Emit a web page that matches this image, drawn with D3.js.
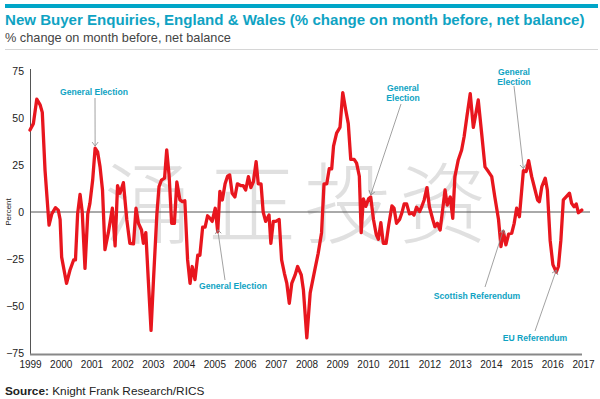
<!DOCTYPE html>
<html><head><meta charset="utf-8">
<script src="https://cdn.jsdelivr.net/npm/d3@7/dist/d3.min.js"></script>
<style>
html,body{margin:0;padding:0;background:#fff;}
svg{display:block;font-family:"Liberation Sans",Arial,Helvetica,sans-serif;}
</style></head>
<body><svg id="c" width="600" height="399"></svg>
<script>
// ---- data ----
const titleText = "New Buyer Enquiries, England & Wales (% change on month before, net balance)";
const subtitleText = "% change on month before, net balance";
const yTicks = [-75, -50, -25, 0, 25, 50, 75];
const xTickYears = [1999,2000,2001,2002,2003,2004,2005,2006,2007,2008,2009,2010,2011,2012,2013,2014,2015,2016,2017];
const dates = [
1999.00,1999.11,1999.22,1999.33,1999.40,1999.49,1999.62,1999.71,1999.83,1999.92,1999.98,
2000.03,2000.19,2000.30,2000.42,2000.48,2000.55,2000.63,2000.70,2000.79,2000.88,2000.95,
2001.04,2001.12,2001.20,2001.28,2001.36,2001.44,2001.55,2001.68,2001.77,2001.85,2001.93,
2002.04,2002.15,2002.25,2002.37,2002.45,2002.53,2002.63,2002.69,2002.77,2002.85,2002.94,
2003.02,2003.13,2003.20,2003.28,2003.38,2003.45,2003.53,2003.61,2003.70,2003.78,2003.88,2003.96,
2004.04,2004.13,2004.21,2004.28,2004.37,2004.46,2004.53,2004.62,2004.70,2004.78,2004.86,2004.93,
2005.03,2005.11,2005.18,2005.26,2005.35,2005.43,2005.50,2005.58,2005.67,2005.75,2005.87,2005.94,
2006.02,2006.11,2006.19,2006.27,2006.36,2006.43,2006.52,2006.59,2006.67,2006.78,2006.84,2006.92,
2007.00,2007.11,2007.19,2007.28,2007.36,2007.44,2007.52,2007.63,2007.71,2007.83,2007.90,
2008.01,2008.12,2008.28,2008.38,2008.49,2008.57,2008.66,2008.74,2008.82,2008.88,2008.98,
2009.09,2009.18,2009.28,2009.36,2009.44,2009.55,2009.63,2009.72,2009.78,2009.85,2009.93,
2010.02,2010.09,2010.18,2010.27,2010.34,2010.42,2010.50,2010.59,2010.67,2010.78,2010.85,2010.93,
2011.03,2011.10,2011.18,2011.26,2011.35,2011.43,2011.50,2011.58,2011.68,2011.75,2011.83,2011.92,
2012.00,2012.11,2012.18,2012.26,2012.35,2012.43,2012.51,2012.58,2012.68,2012.76,2012.83,2012.94,
2013.05,2013.13,2013.22,2013.33,2013.43,2013.52,2013.59,2013.70,2013.81,2013.92,
2014.03,2014.13,2014.25,2014.33,2014.41,2014.49,2014.58,2014.68,2014.76,2014.84,2014.93,
2015.01,2015.06,2015.15,2015.23,2015.33,2015.44,2015.52,2015.58,2015.66,2015.77,2015.84,2015.93,
2016.02,2016.13,2016.20,2016.28,2016.36,2016.45,2016.56,2016.63,2016.71,2016.78,2016.85,2016.96
];
const balance = [
43.6,47,60,57,53,22,-7,-1,2.3,1,-4,
-24,-38,-31,-25.5,-25.5,-1,9.4,0,-30,-1,4.6,
17,34,32,24,11.7,-20,-11,2,-18,14,10,
15.6,-4,-16.7,-17,2,-6,-9.6,-16.7,-11,-36,-63,
-36,-1,13.5,17,18,33,19,-6,-6,16,6.4,5.5,
6,-25.5,-38,-29,-36,-23,-23,-8,-8,-2,-3.4,-5,
2,-10.5,11,6.4,15,19,19.7,10,8,15,14,14,
11.7,18.8,13,16,26.8,15,15,0,-5,-1.6,-16.7,-5,
-5,-4,-25.5,-32.6,-38,-48.6,-38,-33.5,-29,-33.5,-41.5,
-67,-43,-30,-22,-11,15,15,23,23,35,42,
45,63.5,54,47,28,28,26,19,-11,7,3,
7,8,-4,-12,-14.5,-5.7,-16.7,-16.7,-7.6,3.2,2,-6,
-4,-0.7,4.3,4.3,-1,-0.4,-1.6,2.5,0.2,2.8,6.4,13,
2.8,-4,-7.8,-6,-9.6,1,11.7,3.7,8,-3.4,18.8,27.7,
33,40,50.7,63,45,53,59.6,42,24,21.5,
18.8,8,-4,-18.4,-10.5,-17.5,-11.7,-11.3,-6,2,-2.5,
12.6,22,21.5,27.3,18.8,11.7,6.4,5.5,13.5,18,11.7,-15,
-28,-32,-29,-15,6.4,8,10,4.6,2.8,4.3,-0.4,1
];
const eventLabels = [["General Election"],["General Election"],["General","Election"],["General","Election"],["Scottish Referendum"],["EU Referendum"]];
const eventDates = [2001.12, 2005.11, 2010.09, 2015.06, 2014.41, 2016.13];
const watermarkChars = ["涌","正","投","资"];

// ---- layout ----
const teal = "#0fa3c3";
const svg = d3.select("#c");
const x = d3.scaleLinear().domain([1999, 2017]).range([30, 583]);
const y = d3.scaleLinear().domain([-75, 75]).range([353, 71]);

// top bar
svg.append("rect").attr("x",5).attr("y",4).attr("width",593).attr("height",4).attr("fill","#00a6c8");

function fitText(sel, target, start){
  let fs = start; sel.attr("font-size", fs);
  const w = sel.node().getComputedTextLength();
  fs = fs * target / w; sel.attr("font-size", fs);
}
const title = svg.append("text").attr("x",5).attr("y",25).attr("fill",teal)
  .attr("font-weight","bold").text(titleText);
fitText(title, 580, 15);
const sub = svg.append("text").attr("x",5).attr("y",42).attr("fill","#444").text(subtitleText);
fitText(sub, 226, 12);
svg.append("line").attr("x1",5).attr("x2",598).attr("y1",49.5).attr("y2",49.5).attr("stroke","#d6d6d6").attr("stroke-width",1);

// watermark
const wmX = [148, 252, 348, 443];
svg.append("g").selectAll("text").data(watermarkChars).join("text")
  .attr("x",(d,i)=>wmX[i]).attr("y",197)
  .attr("text-anchor","middle").attr("dominant-baseline","central")
  .attr("font-family",'"Noto Sans CJK SC"').attr("font-weight",300)
  .attr("font-size",88).attr("fill","#cfcfcf").attr("fill-opacity",0.65)
  .text(d=>d);

// axes
svg.append("line").attr("x1",30.5).attr("x2",30.5).attr("y1",69).attr("y2",354).attr("stroke","#555").attr("stroke-width",1);
svg.append("line").attr("x1",30).attr("x2",590).attr("y1",y(0)).attr("y2",y(0)).attr("stroke","#555").attr("stroke-width",1);
svg.append("line").attr("x1",30).attr("x2",582).attr("y1",354.5).attr("y2",354.5).attr("stroke","#888").attr("stroke-width",2);

const yAxis = d3.axisLeft(y).tickValues(yTicks).tickSize(0).tickPadding(0).tickFormat(d3.format("d"));
const gy = svg.append("g").attr("transform","translate(24,0)").call(yAxis);
gy.select(".domain").remove();
gy.selectAll("text").attr("font-size",10.5).attr("fill","#222").attr("font-family",'"Liberation Sans",Arial,sans-serif');

const xAxis = d3.axisBottom(x).tickValues(xTickYears).tickSize(0).tickPadding(0).tickFormat(d3.format("d"));
const gx = svg.append("g").attr("transform","translate(0,361)").call(xAxis);
gx.select(".domain").remove();
gx.selectAll("text").attr("font-size",10).attr("fill","#222").attr("font-family",'"Liberation Sans",Arial,sans-serif');

svg.append("text").attr("transform","translate(11,212) rotate(-90)").attr("text-anchor","middle")
  .attr("font-size",8).attr("fill","#222").text("Percent");

// line
const data = dates.map((d,i)=>({t:d, v:balance[i]}));
svg.append("path").datum(data)
  .attr("d", d3.line().x(d=>x(d.t)).y(d=>y(d.v)))
  .attr("fill","none").attr("stroke","#e8161e").attr("stroke-width",3.3)
  .attr("stroke-linejoin","round").attr("stroke-linecap","round");

// annotations
const defs = svg.append("defs");
defs.append("marker").attr("id","chev").attr("viewBox","-6 -5 8 10").attr("refX",0).attr("refY",0)
  .attr("markerWidth",8).attr("markerHeight",10).attr("markerUnits","userSpaceOnUse").attr("orient","auto")
  .append("path").attr("d","M-4,-3L0,0L-4,3").attr("fill","none").attr("stroke","#888").attr("stroke-width",0.8);
const labelPos = [[94,95],[233,289],[403,91],[514,75],[477,299],[535,341]];
const lineStart = [[95,98],[225,280],[401,104],[514,86],[485,287],[535,331]];
eventDates.forEach((t,i)=>{
  const idx = dates.indexOf(t);
  const tip = [x(t), y(balance[idx])];
  svg.append("line").attr("x1",lineStart[i][0]).attr("y1",lineStart[i][1])
    .attr("x2",tip[0]).attr("y2",tip[1]-2).attr("stroke","#8a8a8a").attr("stroke-width",0.8)
    .attr("marker-end","url(#chev)");
  const tx = svg.append("text").attr("x",labelPos[i][0]).attr("y",labelPos[i][1])
    .attr("text-anchor","middle").attr("font-size",8.6).attr("font-weight","bold").attr("fill",teal);
  eventLabels[i].forEach((s,j)=>tx.append("tspan").attr("x",labelPos[i][0]).attr("dy", j?9.5:0).text(s));
});

// source
const src = svg.append("text").attr("x",5).attr("y",395).attr("font-size",11.8).attr("fill","#222");
src.append("tspan").attr("font-weight","bold").text("Source:");
src.append("tspan").text(" Knight Frank Research/RICS");
</script></body></html>
